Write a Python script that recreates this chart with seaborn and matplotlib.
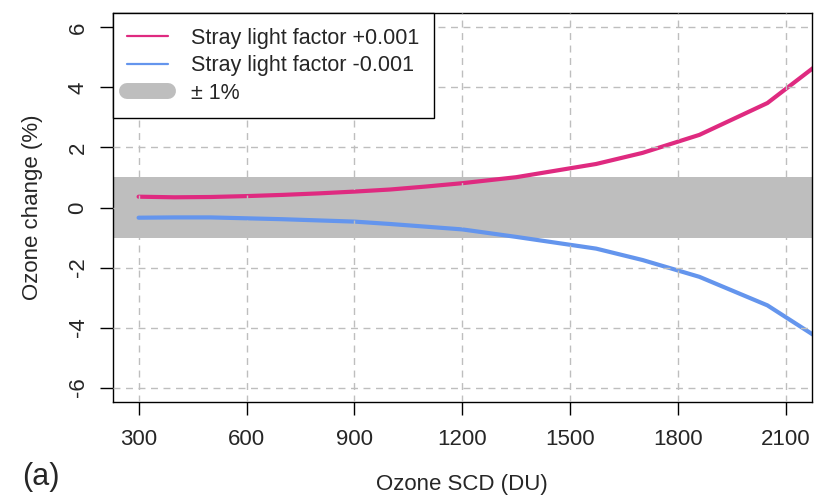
import numpy as np
import pandas as pd
import matplotlib
matplotlib.use("Agg")
import matplotlib.pyplot as plt
from matplotlib.lines import Line2D
import seaborn as sns

# ---- data ----
ozone_scd = [300, 400, 500, 600, 700, 800, 900, 1000, 1100, 1200, 1350, 1572, 1701, 1859, 2048, 2270]
change_plus = [0.36, 0.34, 0.35, 0.38, 0.42, 0.47, 0.53, 0.60, 0.70, 0.81, 1.01, 1.45, 1.82, 2.42, 3.48, 5.52]
change_minus = [-0.34, -0.33, -0.33, -0.36, -0.39, -0.43, -0.47, -0.55, -0.64, -0.73, -0.98, -1.37, -1.75, -2.31, -3.26, -4.97]
series_names = ["Stray light factor +0.001", "Stray light factor -0.001"]
band_label = "\u00b1 1%"
band_limits = [-1, 1]
x_ticks = [300, 600, 900, 1200, 1500, 1800, 2100]
y_ticks = [-6, -4, -2, 0, 2, 4, 6]

colors = {series_names[0]: "#DF2A80", series_names[1]: "#6495ED"}
grid_color = "#BEBEBE"

sns.set_style("ticks")
plt.rcParams["font.family"] = ["Liberation Sans", "DejaVu Sans"]
FS = 16
LFS = 15.5

df = pd.DataFrame({
    "x": ozone_scd * 2,
    "y": change_plus + change_minus,
    "series": [series_names[0]] * len(ozone_scd) + [series_names[1]] * len(ozone_scd),
})

fig = plt.figure(figsize=(8.16, 4.95), dpi=100)
W, H = 816, 495
ax = fig.add_axes([112.7 / W, 1 - 402 / H, (812 - 112.7) / W, (402 - 13) / H])

# band
ax.axhspan(band_limits[0], band_limits[1], color=grid_color, lw=0, zorder=1)

sns.lineplot(data=df, x="x", y="y", hue="series", palette=colors, estimator=None,
             sort=False, linewidth=3.0, ax=ax, legend=False, zorder=2)
for ln in ax.lines:
    ln.set_solid_capstyle("round")
    ln.set_solid_joinstyle("round")

# grid on top (same colour as band so invisible over it)
for xt in x_ticks:
    ax.axvline(xt, color=grid_color, lw=1.0, ls=(0, (5, 4)), zorder=3)
for yt in y_ticks:
    ax.axhline(yt, color=grid_color, lw=1.0, ls=(0, (5, 4)), zorder=3)

ax.set_xlim(228, 2172)
ax.set_ylim(-6.48, 6.48)
ax.set_xticks(x_ticks)
ax.set_yticks(y_ticks)
ax.set_xticklabels([str(v) for v in x_ticks], fontsize=FS)
ax.set_yticklabels([str(v) for v in y_ticks], fontsize=FS, rotation=90, va="center")
ax.tick_params(axis="both", direction="out", length=9.4, width=1.0, color="black")
ax.tick_params(axis="x", pad=10)
ax.tick_params(axis="y", pad=8)
for sp in ax.spines.values():
    sp.set_visible(True)
    sp.set_color("black")
    sp.set_linewidth(1.0)
ax.set_facecolor("white")

ax.set_xlabel("Ozone SCD (DU)", fontsize=FS, labelpad=17)
ax.set_ylabel("Ozone change (%)", fontsize=FS, labelpad=18)

handles = [
    Line2D([0], [0], color=colors[series_names[0]], lw=1.6),
    Line2D([0], [0], color=colors[series_names[1]], lw=1.6),
    Line2D([0], [0], color=grid_color, lw=11.5, solid_capstyle="round"),
]
leg = ax.legend(handles, series_names + [band_label], loc="upper left",
                bbox_to_anchor=(0, 1), borderaxespad=0, fontsize=LFS,
                fancybox=False, framealpha=1, edgecolor="black",
                handlelength=1.9, handletextpad=1.05, borderpad=0.68,
                labelspacing=0.3)
leg.get_frame().set_linewidth(1.0)
leg.set_zorder(5)

fig.text(41 / W, 1 - 477 / H, "(a)", fontsize=22, ha="center", va="center")

fig.savefig("out.png", dpi=100)
